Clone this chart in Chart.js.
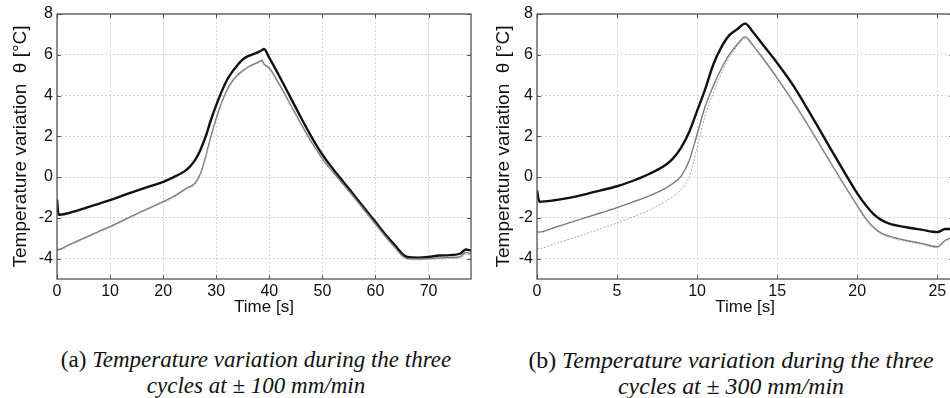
<!DOCTYPE html>
<html>
<head>
<meta charset="utf-8">
<script src="https://cdn.jsdelivr.net/npm/chart.js@4.4.1/dist/chart.umd.min.js"></script>
<style>
  html, body { margin: 0; padding: 0; width: 950px; height: 398px; overflow: hidden; background: #fff; }
  canvas { position: absolute; top: 0; }
  #chartA { left: 0; }
  #chartB { left: 480px; }
  .cap { position: absolute; font-family: 'Liberation Serif', 'DejaVu Serif', serif; color: #111; text-align: center; line-height: 26px; white-space: nowrap; }
  .cap i { font-style: italic; }
  #capA { left: 36px; width: 440px; top: 347px; font-size: 23px; }
  #capB { left: 511px; width: 440px; top: 347px; font-size: 23.8px; }
</style>
</head>
<body>
<canvas id="chartA" width="480" height="330"></canvas>
<canvas id="chartB" width="480" height="330"></canvas>
<div class="cap" id="capA">(a) <i>Temperature variation during the three</i><br><i>cycles at ± 100 mm/min</i></div>
<div class="cap" id="capB">(b) <i>Temperature variation during the three</i><br><i>cycles at ± 300 mm/min</i></div>
<script>
// ---- datos panel (a): ±100 mm/min ----
const timeA = [0, 0.3, 2, 5, 8, 10, 13, 16, 20, 22, 24, 25, 26, 27, 28, 29, 30, 31, 32, 33, 34, 35, 36, 37, 38, 38.6, 39, 40, 42, 44, 46, 48, 50, 52, 54, 56, 58, 60, 62, 64, 65, 66, 68, 70, 72, 74, 76, 77, 78];
const blackA = [-1.1, -1.85, -1.78, -1.55, -1.3, -1.13, -0.85, -0.58, -0.23, 0.0, 0.28, 0.5, 0.83, 1.32, 1.98, 2.8, 3.53, 4.18, 4.75, 5.16, 5.49, 5.77, 5.93, 6.03, 6.14, 6.22, 6.28, 5.85, 4.9, 3.9, 2.9, 1.95, 1.1, 0.4, -0.25, -0.9, -1.55, -2.2, -2.85, -3.45, -3.75, -3.92, -3.95, -3.92, -3.85, -3.83, -3.75, -3.55, -3.6];
const grayA = [-3.55, -3.55, -3.35, -3.0, -2.65, -2.43, -2.05, -1.68, -1.21, -0.95, -0.62, -0.47, -0.3, 0.15, 1.0, 2.0, 2.88, 3.65, 4.26, 4.7, 5.0, 5.22, 5.4, 5.53, 5.65, 5.73, 5.55, 5.35, 4.5, 3.55, 2.6, 1.7, 0.9, 0.25, -0.38, -1.0, -1.65, -2.3, -2.95, -3.55, -3.85, -4.0, -4.02, -4.0, -3.97, -3.95, -3.9, -3.7, -3.75];
const lightA = [-3.6, -3.6, -3.4, -3.05, -2.7, -2.48, -2.1, -1.72, -1.25, -1.0, -0.67, -0.52, -0.36, 0.08, 0.92, 1.92, 2.8, 3.58, 4.2, 4.64, 4.95, 5.17, 5.35, 5.48, 5.6, 5.68, 5.5, 5.3, 4.45, 3.5, 2.55, 1.66, 0.86, 0.2, -0.42, -1.05, -1.7, -2.35, -3.0, -3.6, -3.9, -4.04, -4.06, -4.04, -4.02, -4.0, -3.95, -3.78, -3.8];

// ---- datos panel (b): ±300 mm/min ----
const timeB = [0, 0.15, 1, 2, 3, 4, 5, 6, 7, 8, 8.5, 9, 9.5, 10, 10.5, 11, 11.5, 12, 12.5, 13, 13.5, 14, 15, 16, 17, 18, 19, 20, 20.5, 21, 21.5, 22, 23, 24, 25, 25.5, 26];
const blackB = [-0.64, -1.21, -1.15, -1.02, -0.85, -0.65, -0.45, -0.18, 0.15, 0.58, 0.92, 1.45, 2.2, 3.25, 4.3, 5.5, 6.35, 6.95, 7.25, 7.53, 7.1, 6.6, 5.6, 4.5, 3.2, 1.85, 0.5, -0.8, -1.35, -1.8, -2.1, -2.28, -2.45, -2.58, -2.7, -2.55, -2.55];
const grayB = [-2.68, -2.7, -2.5, -2.25, -2.0, -1.75, -1.5, -1.22, -0.92, -0.55, -0.3, 0.05, 0.8, 2.1, 3.45, 4.45, 5.3, 6.0, 6.5, 6.88, 6.45, 5.95, 4.85, 3.7, 2.45, 1.15, -0.15, -1.4, -2.0, -2.45, -2.75, -2.9, -3.1, -3.25, -3.42, -3.1, -2.95];
const lightB = [-3.5, -3.5, -3.3, -3.05, -2.8, -2.52, -2.25, -1.95, -1.62, -1.2, -0.95, -0.62, 0.0, 1.45, 3.0, 4.1, 5.05, 5.85, 6.4, 6.8, 6.4, 5.9, 4.8, 3.65, 2.4, 1.1, -0.2, -1.45, -2.05, -2.5, -2.8, -2.95, -3.15, -3.3, -3.47, -3.15, -3.0];

const yMin = -5, yMax = 8;

// caja estilo MATLAB + marcas hacia dentro
const boxPlugin = {
    id: 'box',
    afterDraw(chart) {
        const { ctx, chartArea: a, scales } = chart;
        ctx.save();
        ctx.strokeStyle = '#555';
        ctx.lineWidth = 1;
        ctx.beginPath();
        scales.x.ticks.forEach(t => {
            const px = Math.round(scales.x.getPixelForValue(t.value)) + 0.5;
            ctx.moveTo(px, a.bottom); ctx.lineTo(px, a.bottom - 4);
            ctx.moveTo(px, a.top); ctx.lineTo(px, a.top + 4);
        });
        scales.y.ticks.forEach(t => {
            const py = Math.round(scales.y.getPixelForValue(t.value)) + 0.5;
            ctx.moveTo(a.left, py); ctx.lineTo(a.left + 4, py);
            ctx.moveTo(a.right, py); ctx.lineTo(a.right - 4, py);
        });
        ctx.stroke();
        ctx.lineWidth = 1.3;
        ctx.strokeRect(a.left, a.top, a.right - a.left, a.bottom - a.top);
        ctx.restore();
    }
};

function pts(t, v) { return t.map((x, i) => ({ x: x, y: v[i] })); }

function makeChart(id, time, black, gray, light, xMax, xStep, rightPad, yTitlePad) {
    return new Chart(document.getElementById(id), {
        type: 'line',
        data: {
            datasets: [
                { data: pts(time, light), borderColor: '#a8a8a8', borderWidth: 1, borderDash: [2, 1.5] },
                { data: pts(time, gray), borderColor: '#7a7a7a', borderWidth: 1.4 },
                { data: pts(time, black), borderColor: '#111', borderWidth: 2.4 }
            ]
        },
        options: {
            responsive: false,
            animation: false,
            events: [],
            elements: { point: { radius: 0 }, line: { cubicInterpolationMode: 'monotone' } },
            layout: { padding: { top: 14, right: rightPad, left: 0, bottom: 0 } },
            plugins: { legend: { display: false }, tooltip: { enabled: false } },
            scales: {
                x: {
                    type: 'linear', min: 0, max: xMax,
                    afterFit(s) { s.height = 51; },
                    ticks: { stepSize: xStep, includeBounds: false, color: '#111', padding: 3, maxRotation: 0,
                             font: { family: 'Liberation Sans', size: 16 } },
                    grid: { color: '#d4d4d4', drawTicks: false },
                    border: { display: false, dash: [2, 2] },
                    title: { display: true, text: 'Time [s]', color: '#111', padding: { top: 0, bottom: 12 },
                             font: { family: 'Liberation Sans', size: 17 } }
                },
                y: {
                    min: yMin, max: yMax,
                    afterFit(s) { s.width = 57; },
                    ticks: { stepSize: 2, includeBounds: false, color: '#111', padding: 4,
                             font: { family: 'Liberation Sans', size: 16 } },
                    grid: { color: '#d4d4d4', drawTicks: false },
                    border: { display: false, dash: [2, 2] },
                    title: { display: true, text: 'Temperature variation  θ [°C]', color: '#111',
                             padding: { top: yTitlePad, bottom: 0 },
                             font: { family: 'Liberation Sans', size: 19 } }
                }
            }
        },
        plugins: [boxPlugin]
    });
}

makeChart('chartA', timeA, blackA, grayA, lightA, 78, 10, 9, 9);
makeChart('chartB', timeB, blackB, grayB, lightB, 26, 5, 6.7, 12.5);
</script>
</body>
</html>
